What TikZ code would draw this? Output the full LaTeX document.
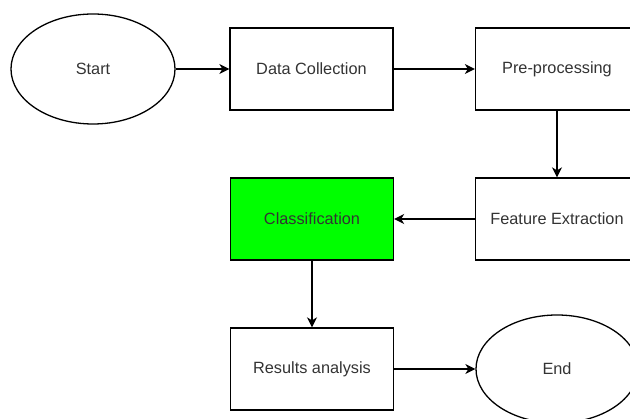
\documentclass[tikz,border=0pt]{standalone}
\usepackage{fontspec}
\setmainfont{Liberation Sans}
\usetikzlibrary{arrows.meta,shapes.geometric}
\definecolor{fillgreen}{HTML}{00FF00}
\definecolor{txt}{HTML}{333333}
\begin{document}
\begin{tikzpicture}[x=1pt,y=-1pt,
  lbl/.style={font=\fontsize{16.3}{19}\selectfont, text=txt},
  box/.style={lbl, draw, line width=1.3pt, minimum width=163pt, minimum height=82pt, inner sep=0pt},
  term/.style={lbl, draw, ellipse, line width=1.3pt, minimum width=164pt, minimum height=110pt, inner sep=0pt},
  flow/.style={line width=1.3pt, -{Stealth[length=10pt,width=10pt,inset=3pt]}}]
\useasboundingbox (0,0) rectangle (630,419);
\clip (0,0) rectangle (630,419);
\node[term] (start) at (93,69) {Start};
\node[box] (dc) at (311.5,69) {Data Collection};
\node[box] (pp) at (557,69) {Pre-processing};
\node[box] (fe) at (557,219) {Feature Extraction};
\node[box, fill=fillgreen] (cl) at (312,219) {Classification};
\node[box] (ra) at (312,369) {Results analysis};
\node[term, minimum width=162pt, minimum height=108pt] (end) at (557,369) {End};
\draw[flow] (start) -- (dc);
\draw[flow] (dc) -- (pp);
\draw[flow] (pp) -- (fe);
\draw[flow] (fe) -- (cl);
\draw[flow] (cl) -- (ra);
\draw[flow] (ra) -- (end);
\end{tikzpicture}
\end{document}
